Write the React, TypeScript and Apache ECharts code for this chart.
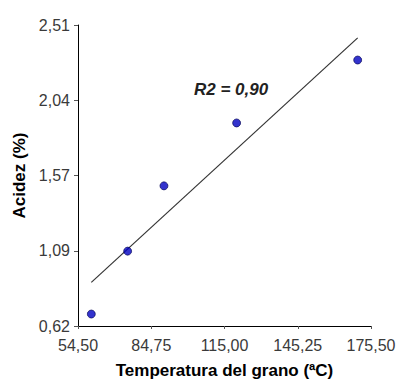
import React, { useEffect, useRef } from "react";
import * as echarts from "echarts";

const temperatures = [60, 75, 90, 120, 170];
const acidity = [0.695, 1.09, 1.5, 1.895, 2.29];
const trendX = [60, 170];
const trendY = [0.894, 2.429];
const xTicks = [54.5, 84.75, 115.0, 145.25, 175.5];
const xTickLabels = ["54,50", "84,75", "115,00", "145,25", "175,50"];
const yTicks = [0.62, 1.0925, 1.565, 2.0375, 2.51];
const yTickLabels = ["0,62", "1,09", "1,57", "2,04", "2,51"];
const r2Label = "R2 = 0,90";

function nearestLabel(v: number, ticks: number[], labels: string[]) {
  let best = 0;
  for (let i = 1; i < ticks.length; i++) {
    if (Math.abs(ticks[i] - v) < Math.abs(ticks[best] - v)) best = i;
  }
  return labels[best];
}

export default function App() {
  const ref = useRef<HTMLDivElement>(null);
  useEffect(() => {
    if (!ref.current) return;
    const chart = echarts.init(ref.current, null, { renderer: "svg" });
    const font = "'Liberation Sans', Arial, sans-serif";
    chart.setOption({
      animation: false,
      backgroundColor: "#ffffff",
      textStyle: { fontFamily: font },
      grid: {
        left: 78,
        right: 25,
        top: 25,
        bottom: 54,
        containLabel: false,
        outerBoundsMode: "none",
      },
      xAxis: {
        type: "value",
        min: xTicks[0],
        max: xTicks[xTicks.length - 1],
        name: "Temperatura del grano (ªC)",
        nameLocation: "middle",
        nameGap: 36,
        nameTextStyle: { fontFamily: font, fontSize: 17, fontWeight: "bold", color: "#000" },
        axisLine: { show: true, lineStyle: { color: "#000", width: 1 } },
        axisTick: { show: true, length: 3, customValues: xTicks, lineStyle: { color: "#555" } },
        axisLabel: {
          customValues: xTicks,
          formatter: (v: number) => nearestLabel(v, xTicks, xTickLabels),
          fontFamily: font,
          fontSize: 16,
          color: "#3a3a3a",
          margin: 11,
        },
        splitLine: { show: false },
      },
      yAxis: {
        type: "value",
        min: yTicks[0],
        max: yTicks[yTicks.length - 1],
        name: "Acidez (%)",
        nameLocation: "middle",
        nameGap: 50,
        nameRotate: 90,
        nameTextStyle: { fontFamily: font, fontSize: 17, fontWeight: "bold", color: "#000" },
        axisLine: { show: true, lineStyle: { color: "#000", width: 1 } },
        axisTick: { show: true, length: 4, customValues: yTicks, lineStyle: { color: "#555" } },
        axisLabel: {
          customValues: yTicks,
          formatter: (v: number) => nearestLabel(v, yTicks, yTickLabels),
          fontFamily: font,
          fontSize: 16,
          color: "#3a3a3a",
          margin: 8,
        },
        splitLine: { show: false },
      },
      series: [
        {
          type: "line",
          data: trendX.map((x, i) => [x, trendY[i]]),
          symbol: "none",
          lineStyle: { color: "#333", width: 1.2 },
          silent: true,
          z: 2,
        },
        {
          type: "scatter",
          data: temperatures.map((x, i) => [x, acidity[i]]),
          symbol: "circle",
          symbolSize: 8,
          itemStyle: { color: "#0000c0", borderColor: "#000050", borderWidth: 0.8 },
          z: 3,
        },
      ],
      graphic: [
        {
          type: "text",
          left: 194,
          top: 81,
          style: {
            text: r2Label,
            fontFamily: font,
            fontSize: 17,
            fontWeight: "bold",
            fontStyle: "italic",
            fill: "#222",
          },
        },
      ],
    });
    return () => chart.dispose();
  }, []);
  return <div ref={ref} style={{ width: 396, height: 380, position: "absolute", left: 0, top: 0 }} />;
}
